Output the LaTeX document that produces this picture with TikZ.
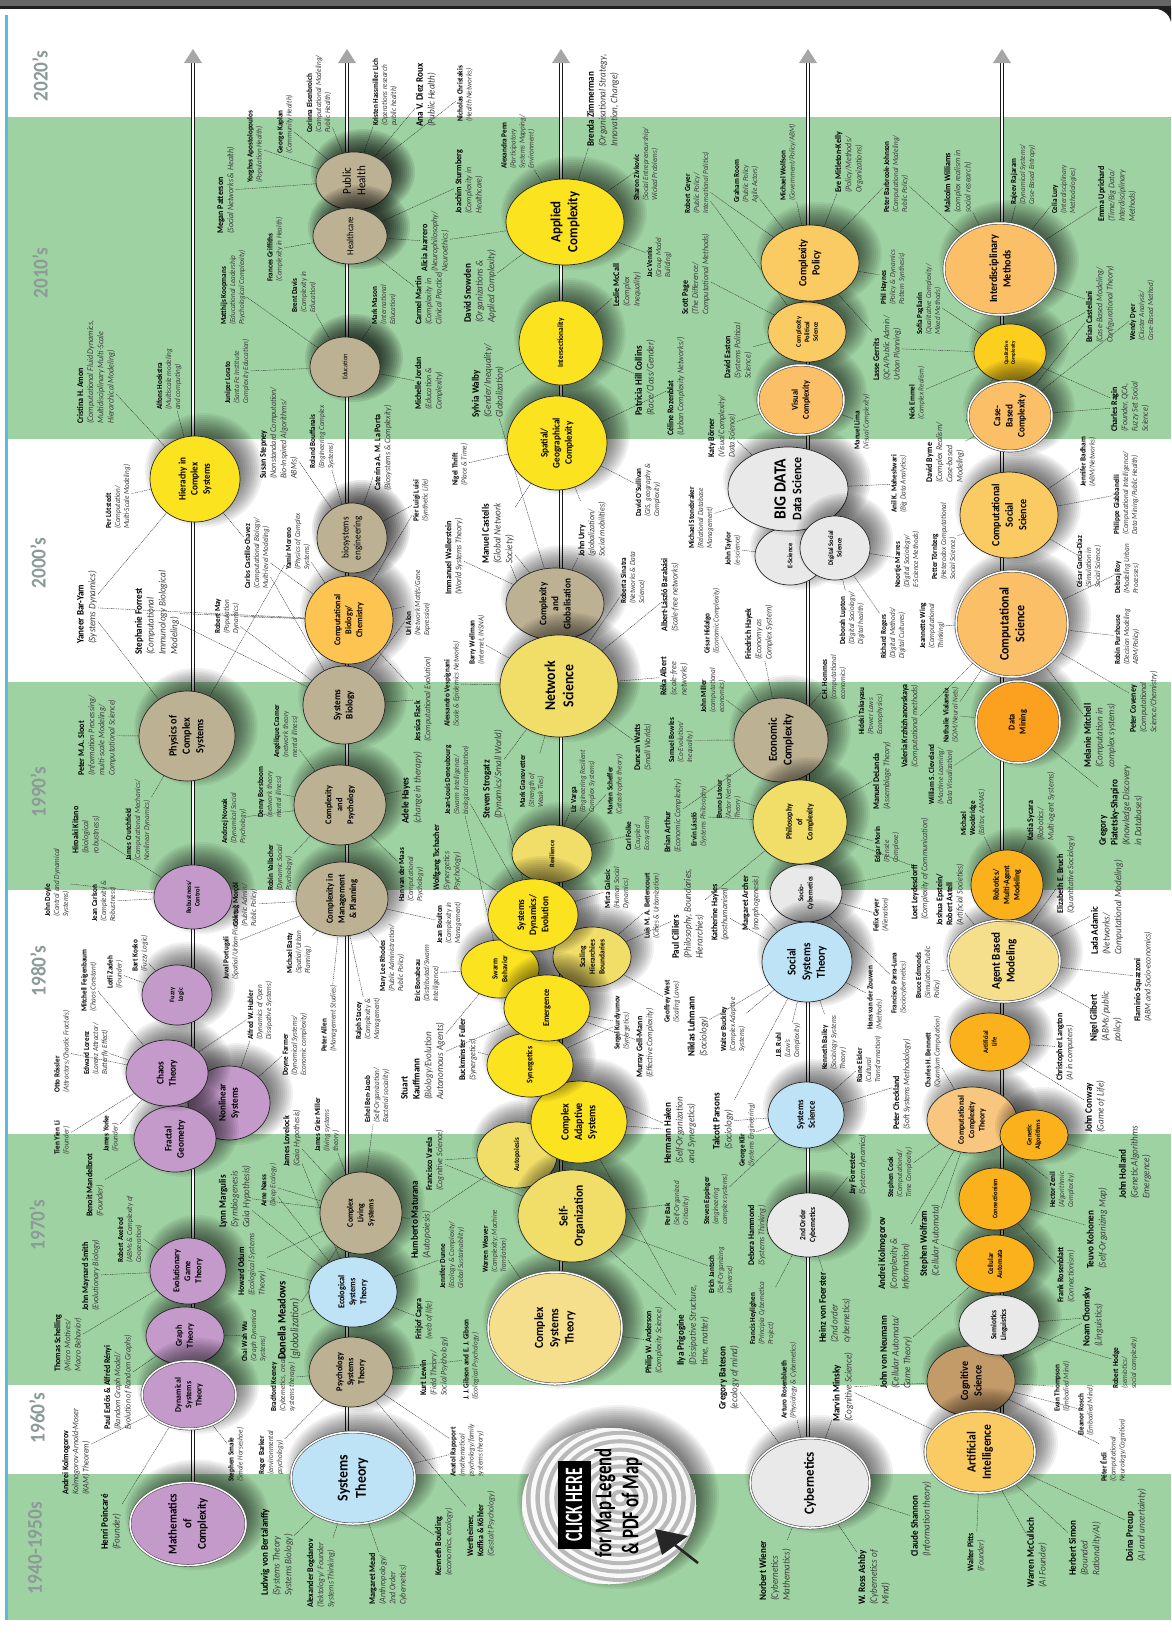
\documentclass[tikz,border=0pt]{standalone}
\usepackage{fontspec}
\setmainfont[FakeStretch=0.92]{Carlito}
\usetikzlibrary{shapes.geometric}
\pgfdeclarelayer{bg}
\pgfsetlayers{bg,main}
\definecolor{band}{HTML}{9FD2A2}
\definecolor{stripe}{HTML}{5DB9E2}
\definecolor{yrc}{HTML}{8C9A98}
\definecolor{desc}{HTML}{3A3A3A}
\definecolor{conc}{HTML}{333333}
\definecolor{pur}{HTML}{C49ACB}
\definecolor{tan}{HTML}{BDB193}
\definecolor{lblue}{HTML}{BFE3F6}
\definecolor{pyel}{HTML}{F1DE68}
\definecolor{cream}{HTML}{F5DF8C}
\definecolor{yel}{HTML}{FCE320}
\definecolor{org}{HTML}{FDC451}
\definecolor{gold}{HTML}{FBB11C}
\definecolor{lgray}{HTML}{E9E9E9}
\definecolor{brwn}{HTML}{C39B69}
\definecolor{peach}{HTML}{FBBF68}
\definecolor{dorg}{HTML}{FBA01F}
\definecolor{sand}{HTML}{F8C67F}
\definecolor{lorg}{HTML}{F9CB62}
\newcommand\fsA{\fontsize{7.8}{9}\selectfont}
\newcommand\fsB{\fontsize{8.7}{10.2}\selectfont}
\newcommand\fsC{\fontsize{9.9}{11.8}\selectfont}
\newcommand\fsD{\fontsize{11.4}{12.8}\selectfont}
\newcommand\Nm[1]{{\bfseries\upshape\color{black}#1}}
\newcommand\PP[6]{\node[pl,font=\csname fs#4\endcsname\itshape] (#1) at (#2,#3) {\Nm{#5}\\#6};}
\newcommand\PQ[7]{\node[pl,font=\csname fs#4\endcsname\itshape] (#1) at (#2,#3) {\Nm{#5}\\\Nm{#6}\\#7};}
\def\shop{.055}
\newcommand\shad[4]{%
  \foreach \k in {0,...,11}{%
    \pgfmathsetmacro\ra{#3+14-2*\k}\pgfmathsetmacro\rb{#4+14-2*\k}%
    \fill[black,opacity=\shop] (#1+9,#2-9) ellipse [x radius=\ra,y radius=\rb];}}
\def\ew{\bfseries}
\newcommand\EL[8][]{%
  \shad{#3}{#4}{#5}{#6}%
  \node[ell,fill=#7,minimum width=2*#5 pt,minimum height=2*#6 pt,#1] (#2) at (#3,#4) {};%
  \pgfmathsetmacro\elb{#8*1.22}%
  \ELtext{#2}{#8}}
\newcommand\ELtext[3]{\node[etx,font=\fontsize{#2}{\elb}\selectfont\ew] (#1t) at (#1) {#3};}
\newcommand\lk[2]{\foreach \tg in {#2}{\draw[conn] (#1) -- (\tg);}}
\tikzset{
  pl/.style={rotate=90,anchor=west,align=left,inner sep=1pt,text=desc},
  ell/.style={shape=ellipse,draw=black!85,line width=.7pt,inner sep=0pt},
  dbl/.style={draw=black!70,double=white,double distance=1.5pt,line width=.6pt},
  etx/.style={rotate=90,align=center,inner sep=0pt,text=black},
  conn/.style={draw=conc,line width=.4pt,dash pattern=on 1.1pt off .7pt},
  yrlab/.style={rotate=90,font=\fontsize{21}{24}\selectfont\bfseries,text=yrc,inner sep=0pt},
  tline/.style={draw=black!90,line width=.8pt,double=white,double distance=1.7pt},
  clk/.style={rotate=90,inner sep=0pt,align=center}
}
\begin{document}
\begin{tikzpicture}[x=1pt,y=-1pt]
\useasboundingbox (0,0) rectangle (1171,1636);
% ---------- bands
\begin{pgfonlayer}{bg}
\foreach \a/\b in {117/439,682/890,1134/1385,1474/1620}{\fill[band] (8,\a) rectangle (1171,\b);}
\fill[stripe] (5,15) rectangle (8,1620);
\end{pgfonlayer}
\node[yrlab] (y40) at (35,1548) {1940-1950s};
\node[yrlab] (y60) at (37,1418) {1960's};
\node[yrlab] (y70) at (37,1225) {1970's};
\node[yrlab] (y80) at (38,971) {1980's};
\node[yrlab] (y90) at (38,792) {1990's};
\node[yrlab] (y00) at (38,563) {2000's};
\node[yrlab] (y10) at (40,273) {2010's};
\node[yrlab] (y20) at (40,76) {2020's};
% ---------- column 1
\EL[dbl]{math}{188}{1524}{58}{41.5}{pur}{12}{Mathematics\\of\\Complexity}
\EL{graph}{185}{1336}{39}{29}{pur}{9}{Graph\\Theory}
\EL[dbl]{dyn}{189}{1395}{47}{34}{pur}{8.5}{Dynamical\\Systems\\Theory}
\EL{evol}{188}{1271}{38}{33}{pur}{9}{Evolutionary\\Game\\Theory}
\EL{nonlin}{229}{1103}{41}{37}{pur}{10}{Nonlinear\\Systems}
\EL{fractal}{175}{1139}{41}{33}{pur}{10}{Fractal\\Geometry}
\EL{chaos}{167}{1073}{41}{33}{pur}{10}{Chaos\\Theory}
\EL{fuzzy}{177}{995}{35}{30}{pur}{7}{Fuzzy\\Logic}
\EL{robust}{193}{897}{39}{32}{pur}{7}{Robustness/\\Control}
\EL{physics}{187}{736}{48}{45}{tan}{11}{Physics of\\Complex\\Systems}
\EL{hier}{195}{479}{45}{43}{yel}{10}{Hierachy in\\Complex\\Systems}
% ---------- column 2
\EL[dbl]{systems}{353}{1478}{62}{46}{lblue}{15}{Systems\\Theory}
\EL{psych}{351}{1372}{42}{35}{tan}{9}{Psychology\\Systems\\Theory}
\EL{ecol}{353}{1292}{44}{35}{lblue}{9}{Ecological\\Systems\\Theory}
\EL{living}{361}{1213}{41}{41}{tan}{8.5}{Complex\\Living\\Systems}
\EL{mgmt}{342}{899}{46}{37}{tan}{9.5}{Complexity in\\Management\\\& Planning}
\EL{cxpsy}{340}{805}{46}{40}{tan}{9}{Complexity\\and\\Psychology}
\EL{sysbio}{344}{705}{41}{39}{tan}{10}{Systems\\Biology}
\EL{compbio}{349}{620}{44}{44}{org}{9}{Computational\\Biology/\\Chemistry}
\def\ew{\mdseries}\def\shop{.085}
\EL{bio}{352}{538}{35}{35}{tan}{10}{biosystems\\engineering}
\EL{edu}{345}{367}{35}{30}{tan}{7}{Education}
\EL{pubh}{354}{181}{38}{29}{tan}{12}{Public\\Health}
\EL{health}{350}{236}{37}{28}{tan}{9.5}{Healthcare}
\def\ew{\bfseries}\def\shop{.055}
% ---------- column 3
\EL[dbl]{cst}{555}{1328}{67}{56}{cream}{12.5}{Complex\\Systems\\Theory}
\EL{auto}{517}{1155}{40}{33}{pyel}{7.5}{Autopoiesis}
\EL{selforg}{572}{1216}{54}{46}{pyel}{12.5}{Self-\\Organization}
\EL{cas}{579}{1122}{48}{41}{yel}{11}{Complex\\Adaptive\\Systems}
\EL{syn}{530}{1065}{43}{32}{yel}{8.5}{Synergetics}
\EL{swarm}{500}{969}{39}{29}{yel}{8}{Swarm\\Behavior}
\EL{scale}{592}{957}{39}{30}{pyel}{8}{Scaling\\Hierarchies\\Boundaries}
\EL{emerg}{547}{1008}{43}{33}{yel}{9}{Emergence}
\EL{resil}{552}{854}{40}{29}{pyel}{7}{Resilience}
\EL{sysdyn}{533}{915}{45}{36}{yel}{10}{Systems\\Dynamics/\\Evolution}
\EL{glob}{555}{604}{49}{36}{tan}{10}{Complexity\\and\\Globalisation}
\EL{network}{559}{686}{59}{51}{pyel}{15}{Network\\Science}
\EL{spatial}{557}{443}{50}{47}{yel}{10}{Spatial/\\Geographical\\Complexity}
\EL{inter}{561}{343}{42}{42}{yel}{8}{Intersectionality}
\EL{applied}{565}{222}{59}{43}{yel}{14}{Applied\\Complexity}
% ---------- column 4
\EL[dbl]{cyber}{810}{1483}{60}{45}{lgray}{14}{Cybernetics}
\EL{second}{808}{1225}{41}{32}{lgray}{8}{2nd Order\\Cybernetics}
\EL{syssci}{806}{1115}{38}{33}{lblue}{9.5}{Systems\\Science}
\EL{socio}{806}{893}{36}{29}{lgray}{7.5}{Socio-\\Cybernetics}
\EL{social}{807}{962}{45}{40}{lblue}{12}{Social\\Systems\\Theory}
\EL{econ}{781}{740}{47}{42}{tan}{12}{Economic\\Complexity}
\EL{philo}{800}{822}{47}{42}{pyel}{8.5}{Philosophy\\of\\Complexity}
\EL{esci}{790}{556}{35}{29}{lgray}{7}{E-Science}
\EL{bigdata}{788}{489}{60}{42}{lgray}{13}{{\fontsize{17}{19}\selectfont BIG DATA}\\Data Science}
\EL{digital}{835}{548}{35}{32}{lgray}{7}{Digital Social\\Science}
\EL[dbl]{visual}{801}{400}{43}{35}{peach}{9}{Visual\\Complexity}
\EL{polsci}{807}{332}{39}{30}{lorg}{7}{Complexity\\Political\\Science}
\EL{policy}{810}{263}{49}{38}{lorg}{11}{Complexity\\Policy}
% ---------- column 5
\EL{cog}{971}{1381}{44}{35}{brwn}{11}{Cognitive\\Science}
\EL[dbl]{ai}{980}{1452}{55}{41}{lorg}{12.5}{Artificial\\Intelligence}
\EL{semi}{999}{1325}{40}{30}{lgray}{8}{Semiotics\\Linguistics}
\EL{ca}{995}{1264}{39}{29}{gold}{7.5}{Cellular\\Automata}
\EL{connm}{995}{1199}{36}{31}{gold}{7}{Connectionism}
\EL{compc}{972}{1120}{45}{33}{sand}{8.5}{Computational\\Complexity\\Theory}
\EL{genetic}{1034}{1135}{34}{25}{gold}{7}{Genetic\\Algorithms}
\EL{alife}{990}{1042}{40}{29}{gold}{7}{Artificial\\Life}
\EL[dbl]{abm}{1004}{961}{56}{41}{cream}{12}{Agent Based\\Modeling}
\EL{robot}{1007}{885}{36}{35}{gold}{8.5}{Robotics/\\Multi-Agent\\Modeling}
\EL[dbl]{dmine}{1018}{722}{42}{41}{dorg}{9}{Data\\Mining}
\EL[dbl]{csci}{1012}{624}{56}{53}{peach}{13}{Computational\\Science}
\EL{css}{1009}{515}{49}{43}{lorg}{11}{Computational\\Social\\Science}
\EL{qual}{1010}{353}{36}{29}{yel!60!gold}{5.5}{Qualitative\\Complexity}
\EL[dbl]{case}{1010}{416}{42}{35}{peach}{10}{Case-\\Based\\Complexity}
\EL[dbl]{idm}{1000}{269}{56}{46}{peach}{11}{Interdisciplinary\\Methods}
% ---------- click disc
\shad{609}{1506}{87}{78}
\node[ell,draw=none,fill=white,minimum width=174pt,minimum height=156pt] (click) at (609,1506) {};
\begin{scope}
\clip (609,1506) ellipse [x radius=87,y radius=78];
\foreach \q in {12,...,1}{
  \pgfmathsetmacro\ra{\q*9.4}\pgfmathsetmacro\rb{\q*8.4}
  \fill[gray!55] (620,1498) ellipse [x radius=\ra,y radius=\rb];
  \pgfmathsetmacro\ra{\q*9.4-4.6}\pgfmathsetmacro\rb{\q*8.4-4.1}
  \fill[white!95!gray] (620,1498) ellipse [x radius=\ra,y radius=\rb];}
\end{scope}
\node[clk,fill=black,text=white,minimum width=88pt,minimum height=33pt,font=\fontsize{25}{27}\selectfont\bfseries] (clickhere) at (574,1505) {\scalebox{.68}[1]{CLICK HERE}};
\node[clk,font=\fontsize{24}{26}\selectfont\bfseries] (legend) at (605,1503) {\scalebox{.76}[1]{for Map Legend}};
\node[clk,font=\fontsize{24}{26}\selectfont\bfseries] (pdf) at (632,1506) {\scalebox{.76}[1]{\& PDF of Map}};
\coordinate (arA) at (698,1563);
\coordinate (arB) at (675,1545);
\coordinate (arT) at (655,1529);
\draw[line width=2.6pt,black!85] (arA) -- (arB);
\fill[black!85] (arT) -- (688,1536) -- (662,1555) -- cycle;
% ---------- labels (id,x,ybottom,size,name,desc)
\PP{kolmo}{76}{1496}{B}{Andrei  Kolmogorov}{Kolmogorov-Arnold-Moser\\(KAM) Theorem)}
\PP{poinc}{111}{1551}{C}{Henri Poincaré}{(Founder)}
\PP{ludwig}{277}{1597}{C}{Ludwig von Bertalanffy}{(Systems Theory\\Systems Biology)}
\PP{bogd}{321}{1609}{B}{Alexander Bogdanov}{(Tektology/ Founder\\Systems Thinking)}
\PP{mead}{388}{1606}{B}{Margaret Mead}{(Anthropology/\\2nd Order\\Cybernetics)}
\PP{bould}{444}{1577}{B}{Kenneth Boulding}{(economics, ecology)}
\PQ{werth}{481}{1558}{B}{Wertheimer,}{Koffka \& Köhler}{(Gestalt Psychology)}
\PP{rapo}{467}{1478}{A}{Anatol Rapoport}{(mathematical\\psychology/family\\systems theory)}
\PP{barker}{271}{1476}{A}{Roger Barker}{(environmental\\psychology)}
\PP{keeney}{283}{1413}{A}{Bradford Keeney}{(Cybernetics, creativity,\\systems therapy)}
\PP{smale}{236}{1483}{A}{Stephen Smale}{(Smale Horseshoe)}
\PP{erdos}{118}{1431}{B}{Paul Erdős \& Alfréd Rényi}{(Random Graph Model/\\Evolution of Random Graphs)}
\PP{wu}{254}{1363}{A}{Chai Wah Wu}{(Graph Dynamical\\Systems)}
\PP{meadows}{289}{1361}{D}{Donella Meadows}{(globalization)}
\PP{schell}{68}{1373}{B}{Thomas Schelling}{(Micro Motives/\\Macro Behavior)}
\PP{msmith}{91}{1312}{B}{John Maynard Smith}{(Evolutionary Biology)}
\PP{axel}{130}{1264}{A}{Robert Axelrod}{(ABMs \& Complexity of\\Cooperation)}
\PP{mandel}{95}{1218}{B}{Benoit Mandelbrot}{(Founder)}
\PP{tien}{62}{1156}{A}{Tien Yien Li}{(Founder)}
\PP{yorke}{111}{1153}{A}{James Yorke}{(Founder)}
\PP{odum}{252}{1297}{B}{Howard Odum}{(Ecological Systems\\Theory)}
\PP{margul}{235}{1229}{C}{Lynn Margulis}{(Symbiogenesis\\Gaia Hypothesis)}
\PP{naess}{269}{1208}{A}{Arne Næss}{(Deep Ecology)}
\PP{lovel}{292}{1168}{B}{James Lovelock}{(Gaia Hypothesis)}
\PP{miller}{327}{1153}{A}{James Grier Miller}{(living systems\\theory)}
\PP{capra}{424}{1341}{B}{Fritjof Capra}{(web of life)}
\PP{lewin}{434}{1397}{B}{Kurt Lewin}{(Field Theory/\\Social Psychology)}
\PP{gibson}{471}{1401}{A}{J. J. Gibson and E. J. Gibson}{(Ecological Psychology)}
\PP{dunne}{452}{1290}{A}{Jennifer Dunne}{(Ecology \& Complexity/\\Global Sustainability)}
\PP{matur}{421}{1260}{C}{Humberto Maturana}{(Autopoiesis)}
\PP{varela}{435}{1192}{B}{Francisco Varela}{(Cognitive Science)}
\PP{weaver}{495}{1274}{A}{Warren Weaver}{(Complexity; Machine\\Translation)}
\PP{ander}{654}{1375}{B}{Philip W. Anderson}{(Complexity Science)}
\PP{prig}{693}{1367}{C}{Ilya Prigogine}{(Dissipative Structure,\\time, matter)}
\PP{bateson}{729}{1411}{C}{Gregory Bateson}{(ecology of mind)}
\PP{bak}{677}{1227}{A}{Per Bak}{(Self-Organized\\Criticality)}
\PP{jantsch}{721}{1295}{A}{Erich Jantsch}{(Self-Organizing\\Universe)}
\PP{epping}{716}{1226}{A}{Steven Eppinger}{(engineering\\complex systems)}
\PP{heyl}{762}{1346}{A}{Francis Heylighen}{(Principia Cybernetica\\Project)}
\PP{hammond}{757}{1267}{B}{Debora Hammond}{(Systems Thinking)}
\PP{klir}{747}{1168}{A}{George Klir}{(Systems Engineering)}
\PP{haken}{680}{1165}{C}{Hermann Haken}{(Self-Organization\\and Synergetics)}
\PP{parsons}{723}{1151}{C}{Talcott Parsons}{(Sociology)}
\PP{rosenb}{789}{1420}{A}{Arturo Rosenblueth}{(Physiology \& Cybernetics)}
\PP{wiener}{775}{1602}{C}{Norbert Wiener}{(Cybernetics\\Mathematics)}
\PP{ashby}{874}{1606}{C}{W. Ross Ashby}{(Cybernetics of\\Mind)}
\PP{shannon}{921}{1558}{C}{Claude Shannon}{(Information theory)}
\PP{pitts}{976}{1573}{B}{Walter Pitts}{(Founder)}
\PP{mccull}{1037}{1589}{C}{Warren McCulloch}{(AI Founder)}
\PP{simon}{1085}{1577}{C}{Herbert Simon}{(Bounded\\Rationality/AI)}
\PP{precup}{1136}{1563}{C}{Doina Precup}{(AI and uncertainty)}
\PP{erdi}{1113}{1483}{A}{Péter Érdi}{(Computational\\Neurology/Cognition)}
\PP{rosch}{1086}{1437}{A}{Eleanor Rosch}{(Embodied Mind)}
\PP{thomps}{1062}{1413}{A}{Evan Thompson}{(Embodied Mind)}
\PP{hodge}{1125}{1390}{A}{Robert Hodge}{(semiotics/\\social complexity)}
\PP{chomsky}{1093}{1348}{C}{Noam Chomsky}{(Linguistics)}
\PP{kohonen}{1097}{1270}{C}{Teuvo Kohonen}{(Self-Organizing Map)}
\PP{rosbl}{1066}{1304}{B}{Frank Rosenblatt}{(Connectionism)}
\PP{zenil}{1062}{1209}{A}{Hector Zenil}{(Algorithmic\\Complexity)}
\PP{holland}{1135}{1200}{C}{John Holland}{(Genetic Algorithms\\Emergence)}
\PP{neumann}{896}{1390}{C}{John von Neumann}{(Cellular Automata/\\Game Theory)}
\PP{kolmb}{894}{1291}{C}{Andrei Kolmogorov}{(Complexity \&\\Information)}
\PP{wolfram}{930}{1278}{C}{Stephen Wolfram}{(Cellular Automata)}
\PP{cook}{900}{1199}{A}{Stephen Cook}{(Computational/\\Time Complexity)}
\PP{forrester}{858}{1196}{B}{Jay Forrester}{(System dynamics)}
\PP{foerster}{835}{1344}{C}{Heinz von Foerster}{(2nd order\\cybernetics)}
\PP{minsky}{843}{1423}{C}{Marvin Minsky}{(Cognitive Science)}
\PP{checkl}{902}{1131}{B}{Peter Checkland}{(Soft Systems Methodology)}
\PP{eisler}{869}{1084}{A}{Riane Eisler}{(Cultural\\Transformation)}
\PP{bailey}{834}{1071}{A}{Kenneth Bailey}{(Sociology Systems\\Theory)}
\PP{ruhl}{788}{1059}{A}{J.B. Ruhl}{(Law's\\Complexity)}
\PP{zouwen}{875}{1031}{A}{Hans van der Zouwen}{(Methods)}
\PP{parra}{899}{1015}{A}{Francisco Parra-Luna}{(Sociocybernetics)}
\PP{fgeyer}{881}{933}{A}{Felix Geyer}{(Alienation)}
\PP{edmonds}{928}{1000}{A}{Bruce Edmonds}{(Simulation Public\\Policy)}
\PP{bennett}{933}{1089}{A}{Charles H. Bennett}{(Quantum Computation)}
\PP{leyd}{920}{921}{B}{Loet Leydesdorff}{(Complexity of Communication)}
\PQ{epstein}{950}{927}{B}{Joshua Epstein/}{Robert Axtell}{(Artificial Societies)}
\PQ{wooldr}{973}{837}{A}{Michael}{Wooldridge}{(Editor, AAMAS)}
\PP{sycara}{1041}{842}{B}{Katia Sycara}{(Robotics/\\Multi-agent Systems)}
\PP{bruch}{1066}{915}{B}{Elizabeth E. Bruch}{(Quantitative Sociology)}
\PP{adamic}{1107}{956}{C}{Lada Adamic}{(Networks/\\Computational Modeling)}
\PP{squazz}{1143}{1023}{B}{Flaminio Squazzoni}{(ABM and Socio-economics)}
\PP{gilbert}{1106}{1043}{C}{Nigel Gilbert}{(ABMs/public\\policy)}
\PP{langton}{1065}{1082}{B}{Christopher Langton}{(AI in computers)}
\PP{conway}{1095}{1134}{C}{John Conway}{(Game of Life)}
\PQ{piatet}{1121}{847}{C}{Gregory}{Piatetsky-Shapiro}{(Knowledge Discovery\\in Databases)}
\PP{mitchell}{1100}{769}{C}{Melanie Mitchell}{(Computation in\\complex systems)}
\PP{coveney}{1144}{734}{B}{Peter Coveney}{(Computational\\Science/Chemistry)}
\PP{vialan}{951}{744}{A}{Nathalie Vialaneix}{(SOM/Neural Nets)}
\PP{clevel}{941}{806}{A}{William S. Cleveland}{(Machine Learning/\\Data Visualization)}
\PP{krzh}{910}{769}{B}{Valeria Krzhizhanovskaya}{(Computational methods)}
\PP{takay}{871}{736}{A}{Hideki Takayasu}{(Power Laws\\Econophysics)}
\PP{hommes}{834}{701}{A}{C.H. Hommes}{(computational\\economics)}
\PP{delanda}{882}{811}{B}{Manuel DeLanda}{(Assemblage Theory)}
\PP{morin}{887}{864}{A}{Edgar Morin}{(Pensée\\Complexe)}
\PP{laszlo}{699}{848}{A}{Ervin László}{(Systems Philosophy)}
\PP{latour}{729}{820}{A}{Bruno Latour}{(Actor Network\\Theory)}
\PP{arthur}{673}{854}{B}{Brian Arthur}{(Economic Complexity)}
\PP{bowles}{681}{764}{A}{Samuel Bowles}{(Co-Evolution/\\Inequality)}
\PP{jmiller}{713}{714}{A}{John Miller}{(computational\\economics)}
\PP{albert}{674}{697}{B}{Réka Albert}{(scale-free\\networks)}
\PP{watts}{643}{772}{B}{Duncan Watts}{(Small Worlds)}
\PP{scheff}{615}{816}{A}{Marten Scheffer}{(Catastrophe theory)}
\PP{varga}{583}{814}{A}{Liz Varga}{(Engineering Resilient\\Complex Systems)}
\PP{folke}{638}{852}{A}{Carl Folke}{(Coupled\\Ecosystems)}
\PP{galesic}{617}{910}{A}{Mirta Galesic}{(Human Social\\Dynamics)}
\PP{betten}{652}{940}{A}{Luis M. A. Bettencourt}{(Cities \& Urbanization)}
\PP{cilliers}{688}{960}{C}{Paul Cilliers}{(Philosophy, Boundaries,\\Hierarchies)}
\PP{hayles}{720}{942}{B}{Katherine Hayles}{(posthumanism)}
\PP{archer}{751}{932}{B}{Margaret Archer}{(morphogenesis)}
\PP{west}{672}{1024}{A}{Geoffrey West}{(Scaling Laws)}
\PP{luhmann}{698}{1058}{C}{Niklas Luhmann}{(Sociology)}
\PP{buckley}{733}{1053}{A}{Walter Buckley}{(Complex Adaptive\\Systems)}
\PP{gellm}{645}{1079}{B}{Murray Gell-Mann}{(Effective Complexity)}
\PP{kurd}{622}{1051}{A}{Sergei Kurdyumov}{(Synergetics)}
\PP{fuller}{468}{1082}{B}{Buckminster Fuller}{(Synergetics)}
\PQ{kauff}{423}{1101}{C}{Stuart}{Kauffmann}{(Biology/Evolution\\Autonomous Agents)}
\PP{bonab}{427}{1003}{A}{Eric Bonabeau}{(Distributed/Swarm\\Intelligence)}
\PP{boulton}{449}{945}{A}{Jean Boulton}{(Complexity in\\Management)}
\PP{tschach}{447}{892}{B}{Wolfgang Tschacher}{(Synergetics\\Psychology)}
\PP{deneub}{457}{816}{A}{Jean-Louis Deneubourg}{(Swarm Intelligence/\\biological computation)}
\PP{strog}{493}{820}{C}{Steven Strogatz}{(Dynamics/Small World)}
\PP{granov}{532}{809}{A}{Mark Granovetter}{(Strength of\\Weak Ties)}
\PP{ahayes}{412}{825}{C}{Adele Hayes}{(change in therapy)}
\PP{maas}{411}{903}{A}{Han van der Maas}{(Computational\\Psychology)}
\PP{vespig}{452}{728}{A}{Alessandro Vespignani}{(Scale \& Epidemics Networks)}
\PP{flack}{423}{743}{B}{Jessica Flack}{(Computational Evolution)}
\PP{wellman}{477}{666}{A}{Barry Wellman}{(Internet, INSNA)}
\PP{alon}{418}{637}{A}{Uri Alon}{(Network Motifs/Gene\\Expression)}
\PP{rhodes}{392}{993}{A}{Mary Lee Rhodes}{(Public Administration/\\Public Policy)}
\PP{benjac}{377}{1124}{A}{Eshel Ben-Jacob}{(Self-Organization/\\Bacterial sociality)}
\PP{stacey}{368}{1041}{A}{Ralph Stacey}{(Complexity \&\\Management)}
\PP{allen}{329}{1053}{A}{Peter Allen}{(Management Studies)}
\PP{farmer}{295}{1077}{A}{Doyne Farmer}{(Dynamical Systems/\\Economic complexity)}
\PP{hubler}{260}{1041}{A}{Alfred W. Hubler}{(Dynamics of Open\\Dissipative Systems)}
\PP{portug}{231}{981}{A}{Juval Portugali}{(Spatial/Urban Planning)}
\PP{batty}{299}{975}{A}{Michael Batty}{(Spatial/Urban\\Planning)}
\PP{morcol}{245}{928}{A}{Göktuğ Morçöl}{(Public Admin/\\Public Policy)}
\PP{vallach}{280}{892}{A}{Robin Vallacher}{(Dynamic Social\\Psychology)}
\PP{nowak}{234}{845}{A}{Andrzej Nowak}{(Dynamical Social\\Psychology)}
\PP{borsb}{270}{819}{A}{Denny Borsboom}{(network theory\\mental illness)}
\PP{cramer}{286}{759}{A}{Angélique Cramer}{(network theory\\mental illness)}
\PP{crutch}{138}{862}{A}{James Crutchfield}{(Computational Mechanics/\\Nonlinear Dynamics)}
\PP{kitano}{86}{855}{B}{Hiroaki Kitano}{(biological\\robustness)}
\PP{sloot}{97}{777}{B}{Peter M.A. Sloot}{(Information Processing/\\multi-scale Modeling/\\Computational Science)}
\PP{doyle}{57}{918}{A}{John Doyle}{(Control and Dynamical\\Systems)}
\PP{carlson}{104}{923}{A}{Jean Carlson}{(Complexity \&\\Robustness)}
\PP{kosko}{140}{973}{A}{Bart Kosko}{(Fuzzy Logic)}
\PP{feigen}{89}{1013}{A}{Mitchell Feigenbaum}{(Chaos Constant)}
\PP{zadeh}{115}{990}{A}{Lotfi Zadeh}{(Founder)}
\PP{rossler}{62}{1094}{A}{Otto Rössler}{(Attractors/Chaotic Fractals)}
\PP{lorenz}{96}{1076}{A}{Edward Lorenz}{(Lorenz Attractor/\\Butterfly Effect)}
\PP{baryam}{87}{645}{C}{Yaneer Bar-Yam}{(Systems Dynamics)}
\PP{forrest}{157}{656}{C}{Stephanie Forrest}{(Computational\\Immunology Biological\\Modeling)}
\PP{carlos}{257}{590}{A}{Carlos Castillo-Chavez}{(Computational Biology/\\Multi-level Modeling)}
\PP{rmay}{227}{635}{A}{Robert May}{(Population\\Dynamics)}
\PP{moreno}{298}{571}{A}{Yamir Moreno}{(Physics of Complex\\Systems)}
\PP{stepney}{279}{480}{B}{Susan Stepney}{(Nonstandard Computation/\\Bio-Inspired Algorithms/\\ABMs)}
\PP{bouff}{322}{470}{A}{Roland Bouffanais}{(Engineering Complex\\Systems)}
\PP{laporta}{383}{492}{B}{Caterina A. M. La Porta}{(Biosystems \& Complexity)}
\PP{luisi}{421}{523}{A}{Pier Luigi Luisi}{(Synthetic Life)}
\PP{waller}{454}{596}{B}{Immanuel Wallerstein}{(World Systems Theory)}
\PP{castells}{498}{565}{C}{Manuel Castells}{(Global Network\\Society)}
\PP{thrift}{460}{487}{A}{Nigel Thrift}{(Place \& Time)}
\PP{walby}{488}{419}{C}{Sylvia Walby}{(Gender/Inequality/\\Globalization)}
\PP{urry}{592}{558}{B}{John Urry}{(globalization/\\Social mobilities)}
\PP{osull}{648}{518}{A}{David O'Sullivan}{(GIS, geography \&\\Complexity)}
\PP{sinatra}{633}{605}{A}{Roberta Sinatra}{(Networks \& Data\\Science)}
\PP{barab}{670}{633}{B}{Albert-László Barabási}{(Scale-free networks)}
\PP{hidalgo}{712}{655}{A}{César Hidalgo}{(Economic Complexity)}
\PP{hayek}{759}{661}{B}{Friedrich Hayek}{(Economy as\\Complex System)}
\PP{stoneb}{701}{550}{A}{Michael Stonebraker}{(Relational Database\\Management)}
\PP{taylor}{733}{567}{A}{John Taylor}{(e-science)}
\PP{rozenb}{676}{437}{B}{Céline Rozenblat}{(Urban Complexity Networks/)}
\PP{borner}{722}{459}{B}{Katy Börner}{(Visual Complexity/\\Data Science)}
\PP{easton}{738}{380}{B}{David Easton}{(Systems Political\\Science)}
\PP{collins}{645}{417}{C}{Patricia Hill Collins}{(Race/Class/Gender)}
\PP{mccall}{627}{308}{B}{Leslie McCall}{(Complex\\Inequality)}
\PP{spage}{696}{316}{B}{Scott Page}{(The Difference/\\Computational Methods)}
\PP{vennix}{659}{279}{A}{Jac Vennix}{(Group Model\\Building)}
\PP{zivk}{646}{202}{A}{Sharon Zivkovic}{(Social Entrepreneurship/\\Wicked Problems)}
\PP{zimmer}{603}{148}{C}{Brenda Zimmerman}{(Organisational Strategy,\\Innovation, Change)}
\PP{penn}{518}{170}{A}{Alexandra Penn}{(Participatory\\Systems Mapping/\\Environment)}
\PP{snowden}{480}{324}{C}{David Snowden}{(Organizations \&\\Applied Complexity)}
\PP{sturm}{469}{215}{B}{Joachim Sturmberg}{(Complexity in\\Healthcare)}
\PP{christ}{465}{123}{A}{Nicholas Christakis}{(Health Networks)}
\PP{diez}{426}{128}{C}{Ana V. Diez Roux}{(Public Health)}
\PP{juarr}{435}{273}{B}{Alicia Juarrero}{(Neurophilosophy/\\Neuroethics)}
\PP{cmartin}{429}{326}{B}{Carmel Martin}{(Complexity in\\Clinical Practice)}
\PP{mjordan}{429}{411}{B}{Michelle Jordan}{(Education \&\\Complexity)}
\PP{lich}{385}{127}{A}{Kristen Hassmiller Lich}{(Operations research\\public health)}
\PP{elsen}{319}{134}{A}{Corinna Elsenbroich}{(Computational Modeling/\\Public Health)}
\PP{kaplan}{285}{155}{A}{George Kaplan}{(Community Health)}
\PP{apost}{255}{184}{A}{Yorghos Apostolopoulos}{(Population Health)}
\PP{patter}{226}{235}{B}{Megan Patterson}{(Social Networks \& Health)}
\PP{griff}{275}{283}{A}{Frances Griffiths}{(Complexity in Health)}
\PP{koopm}{233}{326}{A}{Matthijs Koopmans}{(Educational Leadership\\Psychological Complexity)}
\PP{bdavis}{304}{314}{A}{Brent Davis}{(Complexity in\\Education)}
\PP{mason}{384}{326}{A}{Mark Mason}{(International\\Education)}
\PP{lorato}{237}{405}{A}{Juniper Lorato}{(Santa Fe Institute\\Complexity Education)}
\PP{hoekst}{169}{411}{A}{Alfons Hoekstra}{(Multiscale modeling\\and computing)}
\PP{amon}{96}{425}{B}{Cristina H. Amon}{(Computational Fluid Dynamics,\\Multidisciplinary Multi-Scale\\Hierarchical Modeling)}
\PP{lotst}{118}{530}{A}{Per Lötstedt}{(Computation/\\Multi-Scale Modeling)}
\PP{lima}{862}{451}{A}{Manuel Lima}{(Visual Complexity)}
\PP{mahesh}{899}{514}{A}{Anil K. Maheshwari}{(Big Data Analytics)}
\PP{gerrits}{887}{382}{B}{Lasse Gerrits}{(QCA/Public Admin/\\Urban Planning)}
\PP{haynes}{893}{306}{A}{Phil Haynes}{(Policy \& Dynamics\\Pattern Synthesis)}
\PP{emmel}{917}{421}{A}{Nick Emmel}{(Complex Realism)}
\PP{pagl}{929}{336}{A}{Sofia Pagliarin}{(Qualitative Complexity/\\Mixed Methods)}
\PP{byrne}{945}{484}{B}{David Byrne}{(Complex Realism/\\Case-based\\Modeling)}
\PP{tornb}{944}{581}{A}{Petter Törnberg}{(Heterodox Computational\\Social Science)}
\PP{marres}{907}{589}{A}{Noortje Marres}{(Digital Sociology/\\E-Science Methods)}
\PP{wing}{932}{650}{A}{Jeannette Wing}{(Computational\\Thinking)}
\PP{rogers}{893}{660}{A}{Richard Rogers}{(Digital Methods/\\Digital Cultures)}
\PP{lupton}{852}{646}{A}{Deborah Lupton}{(Digital Sociology/\\Digital health)}
\PP{pursh}{1127}{666}{A}{Robin Purshouse}{(Decision Modeling\\ABM/Policy)}
\PP{droy}{1127}{595}{A}{Debraj Roy}{(Modeling Urban\\Processes)}
\PP{garcia}{1089}{589}{A}{César García-Díaz}{(Simulation in\\Social Science)}
\PP{giabb}{1126}{536}{A}{Philippe Giabbanelli}{(Computational Intelligence/\\Data Mining/Public Health)}
\PP{badham}{1088}{488}{A}{Jennifer Badham}{(ABM/Networks)}
\PP{ragin}{1130}{433}{B}{Charles Ragin}{(Founder, QCA,\\Fuzzy Set Social\\Science)}
\PP{dyer}{1142}{342}{A}{Wendy Dyer}{(Cluster Analysis/\\Case-Based Method)}
\PP{castel}{1100}{344}{B}{Brian Castellani}{(Case-Based Modeling/\\Configurational Theory)}
\PP{uprich}{1117}{223}{B}{Emma Uprichard}{(Time/Big Data/\\Interdisciplinary\\Methods)}
\PP{rajar}{1023}{206}{A}{Rajeev Rajaram}{(Dynamical Systems/\\Case-Based Entropy)}
\PP{lury}{1064}{215}{A}{Celia Lury}{(Interdisciplinary\\Methodologies)}
\PP{williams}{958}{214}{B}{Malcolm Williams}{(complex realism in\\social research)}
\PP{barbr}{896}{214}{A}{Peter Barbrook-Johnson}{(Computational Modeling/\\Public Policy)}
\PP{mitlet}{849}{194}{B}{Eve Mitleton-Kelly}{(Policy/Methods/\\Organizations)}
\PP{wolfson}{788}{202}{A}{Michael Wolfson}{(Government/Policy/ABM)}
\PP{room}{746}{204}{A}{Graham Room}{(Public Policy\\Agile Actors)}
\PP{rgeyer}{697}{215}{A}{Robert Geyer}{(Public Policy/\\International Politics)}
% ---------- timelines and connectors
\coordinate (t1) at (193,63);
\coordinate (t2) at (347,63);
\coordinate (t3) at (561,63);
\coordinate (t4) at (808,63);
\coordinate (t5) at (1002,63);
\begin{pgfonlayer}{bg}
\foreach \c/\s in {t1/math,t2/systems,t3/cst,t4/cyber,t5/ai}{
  \draw[tline] (\c |- \s) -- (\c);
  \fill[black!35] ([xshift=-9pt]\c) -- ([yshift=14pt]\c) -- ([xshift=9pt]\c) -- cycle;}
\lk{kolmo}{dyn}\lk{poinc}{dyn}\lk{smale}{dyn}\lk{erdos}{graph}\lk{wu}{graph}
\lk{schell}{evol}\lk{msmith}{evol}\lk{axel}{evol}\lk{mandel}{fractal}
\lk{tien}{chaos}\lk{yorke}{chaos}\lk{rossler}{chaos}\lk{lorenz}{chaos}\lk{feigen}{chaos}
\lk{zadeh}{fuzzy}\lk{kosko}{fuzzy}\lk{hubler}{chaos,nonlin}\lk{farmer}{nonlin}
\lk{carlson}{robust}\lk{doyle}{robust}\lk{kitano}{robust}\lk{crutch}{physics}\lk{sloot}{physics}
\lk{baryam}{physics,hier,compbio}\lk{forrest}{sysbio,compbio}
\lk{amon}{hier}\lk{hoekst}{hier}\lk{lotst}{hier}\lk{carlos}{hier,compbio,sysbio}
\lk{moreno}{compbio,physics}\lk{rmay}{compbio,sysbio}
\lk{stepney}{bio}\lk{bouff}{bio}\lk{laporta}{bio}\lk{luisi}{bio,compbio}
\lk{alon}{compbio,sysbio}\lk{flack}{compbio,sysbio}
\lk{ludwig}{systems}\lk{bogd}{systems}\lk{mead}{systems}\lk{bould}{systems}
\lk{werth}{psych}\lk{rapo}{systems,psych}\lk{barker}{psych}\lk{keeney}{psych}\lk{lewin}{psych}\lk{gibson}{psych}
\lk{capra}{ecol}\lk{dunne}{ecol}\lk{matur}{living,auto}\lk{varela}{auto,selforg}
\lk{odum}{ecol,living}\lk{margul}{ecol,living}\lk{naess}{ecol,living}\lk{lovel}{ecol,living}
\lk{miller}{living}\lk{meadows}{ecol,living}\lk{benjac}{living}
\lk{weaver}{cst}\lk{ander}{cst}\lk{prig}{selforg,cas}\lk{bak}{selforg}\lk{jantsch}{selforg}
\lk{epping}{syssci}\lk{hammond}{second}\lk{heyl}{second}\lk{klir}{syssci}
\lk{bateson}{cyber}\lk{rosenb}{cyber}\lk{wiener}{cyber}\lk{ashby}{cyber}\lk{foerster}{second}
\lk{minsky}{cyber,cog,ai}\lk{neumann}{ca}\lk{kolmb}{compc}\lk{wolfram}{ca,compc}\lk{cook}{compc}
\lk{forrester}{second,syssci}\lk{shannon}{cyber}\lk{pitts}{ai}\lk{mccull}{ai}\lk{simon}{ai}\lk{precup}{ai}
\lk{erdi}{cog}\lk{rosch}{cog}\lk{thomps}{cog}\lk{hodge}{semi}\lk{chomsky}{cog,semi}
\lk{rosbl}{connm}\lk{kohonen}{connm}\lk{zenil}{compc}\lk{holland}{genetic}
\lk{conway}{alife}\lk{langton}{alife}\lk{gilbert}{abm}\lk{squazz}{abm}\lk{adamic}{abm}\lk{bruch}{abm}
\lk{epstein}{abm}\lk{edmonds}{abm}\lk{bennett}{compc}\lk{checkl}{syssci}\lk{eisler}{syssci}
\lk{bailey}{social}\lk{ruhl}{social}\lk{zouwen}{social}\lk{parra}{socio}\lk{fgeyer}{socio}
\lk{leyd}{socio,philo}\lk{buckley}{social}\lk{parsons}{social,syssci}\lk{luhmann}{social}\lk{hayles}{social}\lk{archer}{social}
\lk{haken}{syn,cas}\lk{gellm}{emerg}\lk{kurd}{emerg,syn}\lk{west}{scale}\lk{cilliers}{scale,philo}\lk{betten}{scale}
\lk{galesic}{sysdyn}\lk{folke}{resil}\lk{scheff}{resil}\lk{varga}{resil}\lk{strog}{sysdyn,network}
\lk{granov}{network}\lk{watts}{network}\lk{albert}{network}\lk{barab}{network}\lk{vespig}{network}\lk{wellman}{network}
\lk{deneub}{swarm,sysdyn}\lk{tschach}{sysdyn}\lk{ahayes}{cxpsy}\lk{boulton}{mgmt}\lk{bonab}{swarm}\lk{kauff}{emerg,swarm}\lk{fuller}{syn}
\lk{cramer}{cxpsy}\lk{borsb}{cxpsy}\lk{nowak}{cxpsy}\lk{vallach}{cxpsy}\lk{maas}{cxpsy}
\lk{morcol}{mgmt}\lk{batty}{mgmt}\lk{portug}{mgmt}\lk{allen}{mgmt}\lk{stacey}{mgmt}\lk{rhodes}{mgmt}
\lk{waller}{glob}\lk{castells}{glob,spatial,network}\lk{walby}{glob,inter}\lk{urry}{glob,spatial}\lk{sinatra}{network}
\lk{thrift}{spatial}\lk{osull}{spatial}\lk{rozenb}{spatial}\lk{collins}{inter}\lk{mccall}{inter}
\lk{snowden}{applied}\lk{juarr}{applied,health}\lk{penn}{applied}\lk{zimmer}{applied}\lk{zivk}{applied}\lk{vennix}{applied}
\lk{griff}{health}\lk{cmartin}{health}\lk{sturm}{health}
\lk{lich}{pubh}\lk{elsen}{pubh}\lk{kaplan}{pubh}\lk{apost}{pubh}\lk{patter}{pubh}\lk{diez}{pubh}\lk{christ}{pubh}
\lk{koopm}{edu}\lk{lorato}{edu}\lk{bdavis}{edu}\lk{mason}{edu}\lk{mjordan}{edu}
\lk{stoneb}{bigdata}\lk{borner}{bigdata,visual}\lk{mahesh}{bigdata}\lk{taylor}{esci}
\lk{lupton}{digital}\lk{rogers}{digital}\lk{marres}{digital}\lk{easton}{polsci}\lk{spage}{polsci}
\lk{rgeyer}{policy,polsci}\lk{room}{policy}\lk{wolfson}{policy}\lk{mitlet}{policy}\lk{barbr}{policy,idm}
\lk{haynes}{policy}\lk{gerrits}{policy,qual}\lk{lima}{visual}
\lk{williams}{idm}\lk{rajar}{idm}\lk{lury}{idm}\lk{uprich}{idm}\lk{castel}{idm,qual,case}
\lk{pagl}{qual}\lk{emmel}{qual}\lk{byrne}{case,qual}\lk{dyer}{case}\lk{ragin}{case,qual}
\lk{badham}{css}\lk{giabb}{css}\lk{garcia}{css}\lk{tornb}{css}
\lk{droy}{csci}\lk{pursh}{csci}\lk{coveney}{csci}\lk{mitchell}{csci}\lk{wing}{csci}\lk{krzh}{csci}
\lk{vialan}{dmine,csci}\lk{clevel}{dmine}\lk{piatet}{dmine}\lk{sycara}{robot}\lk{wooldr}{robot}
\lk{bowles}{econ}\lk{hommes}{econ}\lk{takay}{econ}\lk{arthur}{econ}\lk{hidalgo}{econ}\lk{jmiller}{econ}\lk{hayek}{econ}
\lk{latour}{philo}\lk{laszlo}{philo}\lk{delanda}{philo}\lk{morin}{philo}
\end{pgfonlayer}
% ---------- top bar
\fill[black!60] (0,0) rectangle (1171,6);
\fill[black!88] (0,6) rectangle (1171,8.5);
\fill[black!88] (1150,8) -- (1171,8) -- (1171,22) .. controls (1169,13) and (1162,8.5) .. (1150,8) -- cycle;
\end{tikzpicture}
\end{document}
